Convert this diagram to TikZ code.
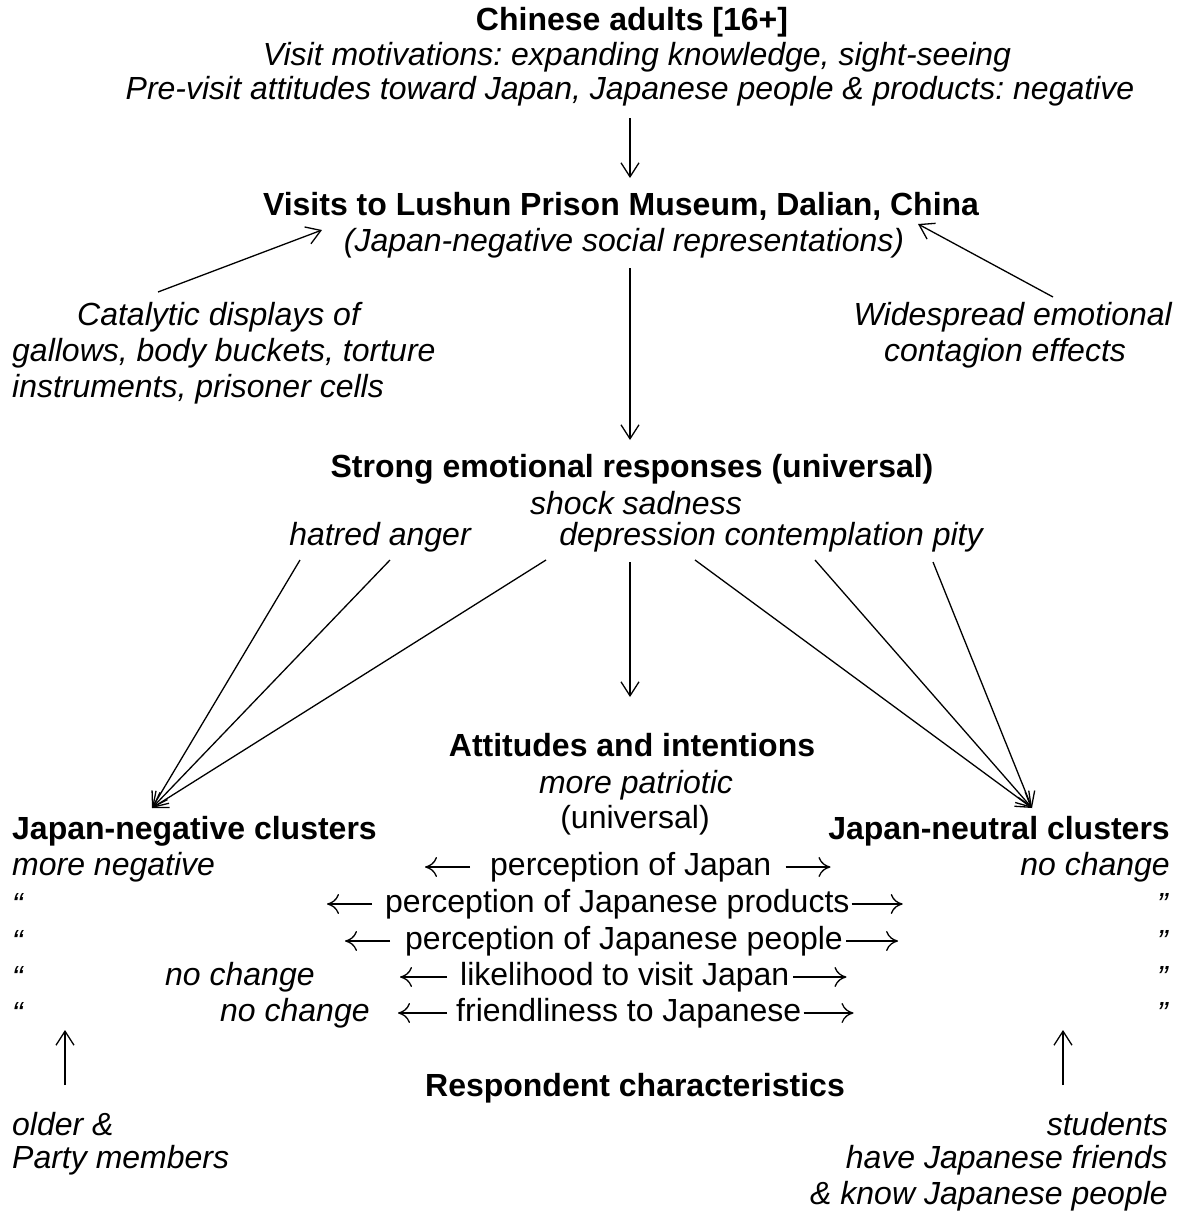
\documentclass[tikz,border=0pt]{standalone}
\usepackage{fontspec}
\setmainfont{Liberation Sans}
\usetikzlibrary{arrows.meta}
\frenchspacing
\tikzset{
  txt/.style={inner sep=0pt, font=\fontsize{32}{36}\selectfont},
  bt/.style={txt, font=\fontsize{32}{36}\selectfont\bfseries},
  it/.style={txt, font=\fontsize{32}{36}\selectfont\itshape},
  arr/.style={line width=1.3pt, -{Straight Barb[length=14pt,width=18pt,line width=1.3pt]}},
  rarr/.style={line width=1.3pt, -{Computer Modern Rightarrow[length=12pt,width=20pt,line width=1.3pt]}}
}
\begin{document}
\begin{tikzpicture}[x=1pt,y=-1pt]
\useasboundingbox (0,0) rectangle (1182,1215);
% top
\node[bt] (t1) at (632,22) {Chinese adults [16+]};
\node[it] (t2) at (637,57) {Visit motivations: expanding knowledge, sight-seeing};
\node[it] (t3) at (630,91) {Pre-visit attitudes toward Japan, Japanese people \& products: negative};
\node[bt] (v1) at (621,206) {Visits to Lushun Prison Museum, Dalian, China};
\node[it] (v2) at (624,243) {(Japan-negative social representations)};
\coordinate (a1s) at (630,118);
\coordinate (a1e) at (630,178);
\draw[arr] (a1s) -- (a1e);
% side texts
\node[it, anchor=west] (c1) at (77,317) {Catalytic displays of};
\node[it, anchor=west] (c2) at (12,353) {gallows, body buckets, torture};
\node[it, anchor=west] (c3) at (12,389) {instruments, prisoner cells};
\node[it, anchor=east] (w1) at (1172,317) {Widespread emotional};
\node[it] (w2) at (1005,353) {contagion effects};
\coordinate (cs) at (158,292);
\coordinate (ce) at (322,230);
\coordinate (ws) at (1053,297);
\coordinate (we) at (918,224);
\draw[arr] (cs) -- (ce);
\draw[arr] (ws) -- (we);
\coordinate (vs) at (630,268);
\coordinate (se) at (630,440);
\draw[arr] (vs) -- (se);
% emotional responses
\node[bt] (s1) at (632,469) {Strong emotional responses (universal)};
\node[it] (s2) at (636,503) {shock sadness};
\node[it] (s3) at (380,537) {hatred anger};
\node[it] (s4) at (771,537) {depression contemplation pity};
\coordinate (ln) at (152,808);
\coordinate (rn) at (1032,808);
\coordinate (e1) at (300,560);
\coordinate (e2) at (390,560);
\coordinate (e3) at (546,560);
\coordinate (e4) at (695,560);
\coordinate (e5) at (815,560);
\coordinate (e6) at (933,562);
\foreach \e in {e1,e2,e3} \draw[arr] (\e) -- (ln);
\foreach \e in {e4,e5,e6} \draw[arr] (\e) -- (rn);
\coordinate (ms) at (630,562);
\coordinate (me) at (630,697);
\draw[arr] (ms) -- (me);
% attitudes
\node[bt] (at1) at (632,745) {Attitudes and intentions};
\node[it] (at2) at (636,785) {more patriotic};
\node[txt] (at3) at (635,820) {(universal)};
% clusters
\node[bt, anchor=west] (neg) at (12,831) {Japan-negative clusters};
\node[bt, anchor=east] (neu) at (1170,831) {Japan-neutral clusters};
% rows
\node[it, anchor=west] (l1) at (12,867) {more negative};
\node[it, anchor=west] (l2) at (12,904) {“};
\node[it, anchor=west] (l3) at (12,941) {“};
\node[it, anchor=west] (l4) at (12,977) {“};
\node[it, anchor=west] (l5) at (12,1013) {“};
\node[it, anchor=west] (n4) at (165,977) {no change};
\node[it, anchor=west] (n5) at (220,1013) {no change};
\node[it, anchor=east] (r1) at (1170,867) {no change};
\node[it, anchor=east] (r2) at (1168,904) {”};
\node[it, anchor=east] (r3) at (1168,941) {”};
\node[it, anchor=east] (r4) at (1168,977) {”};
\node[it, anchor=east] (r5) at (1168,1013) {”};
\node[txt, anchor=west] (p1) at (490,867) {perception of Japan};
\node[txt, anchor=west] (p2) at (385,904) {perception of Japanese products};
\node[txt, anchor=west] (p3) at (405,941) {perception of Japanese people};
\node[txt, anchor=west] (p4) at (460,977) {likelihood to visit Japan};
\node[txt, anchor=west] (p5) at (456,1013) {friendliness to Japanese};
\draw[rarr] ([xshift=-20pt]p1.west) -- ++(-45,0);
\draw[rarr] ([xshift=14pt]p1.east) -- ++(45,0);
\draw[rarr] ([xshift=-13pt]p2.west) -- ++(-45,0);
\draw[rarr] ([xshift=2pt]p2.east) -- ++(51,0);
\draw[rarr] ([xshift=-15pt]p3.west) -- ++(-45,0);
\draw[rarr] ([xshift=3pt]p3.east) -- ++(52,0);
\draw[rarr] ([xshift=-13pt]p4.west) -- ++(-47,0);
\draw[rarr] ([xshift=4pt]p4.east) -- ++(53,0);
\draw[rarr] ([xshift=-9pt]p5.west) -- ++(-49,0);
\draw[rarr] ([xshift=2pt]p5.east) -- ++(50,0);
% respondent characteristics
\node[bt] (rc) at (635,1088) {Respondent characteristics};
\coordinate (ul) at (65,1085);
\coordinate (ult) at (65,1030);
\coordinate (ur) at (1063,1085);
\coordinate (urt) at (1063,1030);
\draw[arr] (ul) -- (ult);
\draw[arr] (ur) -- (urt);
\node[it, anchor=west] (o1) at (12,1124) {older \&};
\node[it, anchor=west] (o2) at (12,1160) {Party members};
\node[it, anchor=east] (st1) at (1168,1124) {students};
\node[it, anchor=east] (st2) at (1168,1160) {have Japanese friends};
\node[it, anchor=east] (st3) at (1168,1196) {\& know Japanese people};
\end{tikzpicture}
\end{document}
